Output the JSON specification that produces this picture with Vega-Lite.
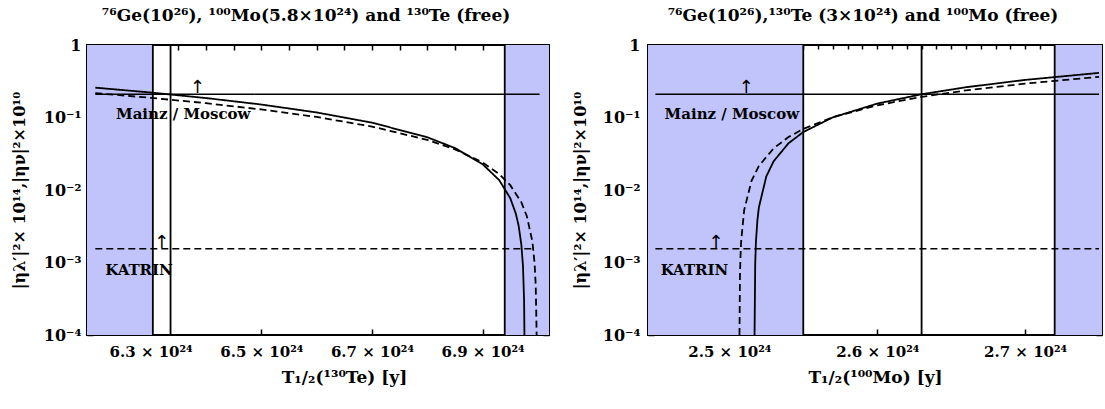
{
  "$schema": "https://vega.github.io/schema/vega-lite/v6.json",
  "background": "white",
  "padding": {"left": 10, "top": 6, "right": 0, "bottom": 5},
  "spacing": 20,
  "config": {
    "view": {"stroke": "black", "strokeWidth": 2},
    "font": "DejaVu Serif",
    "title": {"font": "DejaVu Serif"},
    "text": {"font": "DejaVu Serif"},
    "axis": {"grid": false, "domain": false, "labelFont": "DejaVu Serif", "labelFontWeight": "bold", "labelFontSize": 16, "labelColor": "black", "titleFont": "DejaVu Serif", "titleFontWeight": "bold", "titleFontSize": 16, "titleColor": "black", "tickColor": "black", "tickWidth": 1.5}
  },
  "hconcat": [
    {
      "width": 462,
      "height": 290,
      "title": {"text": "⁷⁶Ge(10²⁶), ¹⁰⁰Mo(5.8×10²⁴) and ¹³⁰Te (free)", "font": "DejaVu Serif", "fontWeight": "bold", "fontSize": 17, "color": "black", "offset": 12, "dx": -12},
      "resolve": {"axis": {"x": "independent", "y": "independent"}},
      "layer": [
        {
          "data": {"values": [{"a": 6.185, "b": 6.304}, {"a": 6.94, "b": 7.02}]},
          "mark": {"type": "rect", "color": "#c0c4fb"},
          "encoding": {
            "x": {"field": "a", "type": "quantitative", "scale": {"domain": [6.185, 7.02], "nice": false, "zero": false}, "axis": {"orient": "top", "values": [6.2, 6.25, 6.3, 6.35, 6.4, 6.45, 6.5, 6.55, 6.6, 6.65, 6.7, 6.75, 6.8, 6.85, 6.9, 6.95, 7.0], "labels": false, "tickSize": -5, "title": null}},
            "x2": {"field": "b"}
          }
        },
        {
          "data": {"values": [{"t": 6.304}, {"t": 6.336}, {"t": 6.94}]},
          "mark": {"type": "rule", "color": "black", "strokeWidth": 1.8},
          "encoding": {"x": {"field": "t", "type": "quantitative", "axis": null}}
        },
        {
          "data": {"values": [{"a": 6.2, "b": 7.003, "v": 0.209, "style": "solid"}, {"a": 6.2, "b": 6.994, "v": 0.00155, "style": "dashed"}]},
          "mark": {"type": "rule", "color": "black", "strokeWidth": 1.6},
          "encoding": {
            "x": {"field": "a", "type": "quantitative", "axis": null},
            "x2": {"field": "b"},
            "y": {"field": "v", "type": "quantitative", "scale": {"type": "log", "domain": [0.0001, 1], "nice": false}, "axis": {"orient": "right", "values": [0.0001, 0.001, 0.01, 0.1, 1], "labels": false, "tickSize": -6, "title": null}},
            "strokeDash": {"field": "style", "type": "nominal", "scale": {"domain": ["solid", "dashed"], "range": [[1, 0], [7, 4]]}, "legend": null}
          }
        },
        {
          "data": {"values": [
            {"T": 6.2, "y": 0.258, "style": "solid"},
            {"T": 6.3, "y": 0.2212, "style": "solid"},
            {"T": 6.4, "y": 0.1855, "style": "solid"},
            {"T": 6.5, "y": 0.151, "style": "solid"},
            {"T": 6.6, "y": 0.1174, "style": "solid"},
            {"T": 6.7, "y": 0.0849, "style": "solid"},
            {"T": 6.8, "y": 0.0534, "style": "solid"},
            {"T": 6.85, "y": 0.0379, "style": "solid"},
            {"T": 6.9, "y": 0.0227, "style": "solid"},
            {"T": 6.93, "y": 0.01368, "style": "solid"},
            {"T": 6.95, "y": 0.00771, "style": "solid"},
            {"T": 6.96, "y": 0.00473, "style": "solid"},
            {"T": 6.965, "y": 0.00325, "style": "solid"},
            {"T": 6.97, "y": 0.00177, "style": "solid"},
            {"T": 6.973, "y": 0.000887, "style": "solid"},
            {"T": 6.975, "y": 0.000296, "style": "solid"},
            {"T": 6.9756, "y": 0.0001, "style": "solid"},
            {"T": 6.2, "y": 0.217, "style": "dashed"},
            {"T": 6.3, "y": 0.1868, "style": "dashed"},
            {"T": 6.4, "y": 0.1576, "style": "dashed"},
            {"T": 6.5, "y": 0.1292, "style": "dashed"},
            {"T": 6.6, "y": 0.1017, "style": "dashed"},
            {"T": 6.7, "y": 0.075, "style": "dashed"},
            {"T": 6.8, "y": 0.0491, "style": "dashed"},
            {"T": 6.85, "y": 0.0364, "style": "dashed"},
            {"T": 6.9, "y": 0.024, "style": "dashed"},
            {"T": 6.93, "y": 0.01654, "style": "dashed"},
            {"T": 6.95, "y": 0.01165, "style": "dashed"},
            {"T": 6.97, "y": 0.00677, "style": "dashed"},
            {"T": 6.98, "y": 0.00434, "style": "dashed"},
            {"T": 6.99, "y": 0.00194, "style": "dashed"},
            {"T": 6.994, "y": 0.000964, "style": "dashed"},
            {"T": 6.996, "y": 0.000481, "style": "dashed"},
            {"T": 6.9975, "y": 0.00012, "style": "dashed"},
            {"T": 6.9976, "y": 0.0001, "style": "dashed"}
          ]},
          "mark": {"type": "line", "color": "black", "strokeWidth": 1.8, "clip": true},
          "encoding": {
            "x": {"field": "T", "type": "quantitative", "axis": {"orient": "bottom", "values": [6.3, 6.5, 6.7, 6.9], "labelExpr": "format(datum.value, '.1f') + ' × 10²⁴'", "tickSize": -6, "labelPadding": 15, "labelFontSize": 15, "title": "T₁/₂(¹³⁰Te) [y]", "titleFontSize": 17, "titlePadding": 10, "titleX": 257, "titleAlign": "center"}},
            "y": {"field": "y", "type": "quantitative", "axis": {"orient": "left", "values": [0.0001, 0.001, 0.01, 0.1, 1], "labelExpr": "datum.value > 0.5 ? '1' : datum.value > 0.05 ? '10⁻¹' : datum.value > 0.005 ? '10⁻²' : datum.value > 0.0005 ? '10⁻³' : '10⁻⁴'", "tickSize": -6, "labelPadding": 12, "minExtent": 56, "maxExtent": 56, "title": "|ηλ′|²× 10¹⁴,|ην|²×10¹⁰", "titlePadding": 4}},
            "strokeDash": {"field": "style", "type": "nominal", "legend": null},
            "detail": {"field": "style"}
          }
        },
        {
          "data": {"values": [{"T": 6.359, "y": 0.112, "label": "Mainz / Moscow"}, {"T": 6.279, "y": 0.00079, "label": "KATRIN"}]},
          "mark": {"type": "text", "font": "DejaVu Serif", "fontWeight": "bold", "fontSize": 15, "color": "black", "align": "center", "baseline": "middle"},
          "encoding": {
            "x": {"field": "T", "type": "quantitative", "axis": null},
            "y": {"field": "y", "type": "quantitative", "axis": null},
            "text": {"field": "label"}
          }
        },
        {
          "data": {"values": [{"T": 6.385, "y": 0.209, "label": "↑"}, {"T": 6.32, "y": 0.00155, "label": "↑"}]},
          "mark": {"type": "text", "font": "DejaVu Sans", "fontSize": 18, "color": "black", "align": "center", "baseline": "bottom", "dy": 3},
          "encoding": {
            "x": {"field": "T", "type": "quantitative", "axis": null},
            "y": {"field": "y", "type": "quantitative", "axis": null},
            "text": {"field": "label"}
          }
        }
      ]
    },
    {
      "width": 454,
      "height": 290,
      "title": {"text": "⁷⁶Ge(10²⁶),¹³⁰Te (3×10²⁴) and ¹⁰⁰Mo (free)", "font": "DejaVu Serif", "fontWeight": "bold", "fontSize": 17, "color": "black", "offset": 12, "dx": -12},
      "resolve": {"axis": {"x": "independent", "y": "independent"}},
      "layer": [
        {
          "data": {"values": [{"a": 2.445, "b": 2.55}, {"a": 2.72, "b": 2.752}]},
          "mark": {"type": "rect", "color": "#c0c4fb"},
          "encoding": {
            "x": {"field": "a", "type": "quantitative", "scale": {"domain": [2.445, 2.752], "nice": false, "zero": false}, "axis": {"orient": "top", "values": [2.45, 2.46, 2.47, 2.48, 2.49, 2.5, 2.51, 2.52, 2.53, 2.54, 2.55, 2.56, 2.57, 2.58, 2.59, 2.6, 2.61, 2.62, 2.63, 2.64, 2.65, 2.66, 2.67, 2.68, 2.69, 2.7, 2.71, 2.72, 2.73, 2.74, 2.75], "labels": false, "tickSize": -4, "title": null}},
            "x2": {"field": "b"}
          }
        },
        {
          "data": {"values": [{"t": 2.55}, {"t": 2.63}, {"t": 2.72}]},
          "mark": {"type": "rule", "color": "black", "strokeWidth": 1.8},
          "encoding": {"x": {"field": "t", "type": "quantitative", "axis": null}}
        },
        {
          "data": {"values": [{"a": 2.45, "b": 2.75, "v": 0.209, "style": "solid"}, {"a": 2.45, "b": 2.75, "v": 0.00155, "style": "dashed"}]},
          "mark": {"type": "rule", "color": "black", "strokeWidth": 1.6},
          "encoding": {
            "x": {"field": "a", "type": "quantitative", "axis": null},
            "x2": {"field": "b"},
            "y": {"field": "v", "type": "quantitative", "scale": {"type": "log", "domain": [0.0001, 1], "nice": false}, "axis": {"orient": "right", "values": [0.0001, 0.001, 0.01, 0.1, 1], "labels": false, "tickSize": -6, "title": null}},
            "strokeDash": {"field": "style", "type": "nominal", "scale": {"domain": ["solid", "dashed"], "range": [[1, 0], [7, 4]]}, "legend": null}
          }
        },
        {
          "data": {"values": [
            {"T": 2.51705, "y": 0.0001, "style": "solid"},
            {"T": 2.5175, "y": 0.000968, "style": "solid"},
            {"T": 2.518, "y": 0.001936, "style": "solid"},
            {"T": 2.519, "y": 0.003859, "style": "solid"},
            {"T": 2.52, "y": 0.005794, "style": "solid"},
            {"T": 2.525, "y": 0.01541, "style": "solid"},
            {"T": 2.53, "y": 0.025, "style": "solid"},
            {"T": 2.54, "y": 0.0441, "style": "solid"},
            {"T": 2.55, "y": 0.063, "style": "solid"},
            {"T": 2.57, "y": 0.1004, "style": "solid"},
            {"T": 2.6, "y": 0.1554, "style": "solid"},
            {"T": 2.63, "y": 0.2091, "style": "solid"},
            {"T": 2.66, "y": 0.2616, "style": "solid"},
            {"T": 2.7, "y": 0.3299, "style": "solid"},
            {"T": 2.75, "y": 0.4124, "style": "solid"},
            {"T": 2.50686, "y": 0.0001, "style": "dashed"},
            {"T": 2.5072, "y": 0.00066, "style": "dashed"},
            {"T": 2.5075, "y": 0.00114, "style": "dashed"},
            {"T": 2.508, "y": 0.00197, "style": "dashed"},
            {"T": 2.51, "y": 0.00524, "style": "dashed"},
            {"T": 2.515, "y": 0.0134, "style": "dashed"},
            {"T": 2.52, "y": 0.0215, "style": "dashed"},
            {"T": 2.53, "y": 0.0377, "style": "dashed"},
            {"T": 2.54, "y": 0.0537, "style": "dashed"},
            {"T": 2.55, "y": 0.0696, "style": "dashed"},
            {"T": 2.57, "y": 0.101, "style": "dashed"},
            {"T": 2.6, "y": 0.1473, "style": "dashed"},
            {"T": 2.63, "y": 0.1925, "style": "dashed"},
            {"T": 2.66, "y": 0.2366, "style": "dashed"},
            {"T": 2.7, "y": 0.294, "style": "dashed"},
            {"T": 2.75, "y": 0.3634, "style": "dashed"}
          ]},
          "mark": {"type": "line", "color": "black", "strokeWidth": 1.8, "clip": true},
          "encoding": {
            "x": {"field": "T", "type": "quantitative", "axis": {"orient": "bottom", "values": [2.5, 2.6, 2.7], "labelExpr": "format(datum.value, '.1f') + ' × 10²⁴'", "tickSize": -6, "labelPadding": 15, "labelFontSize": 15, "title": "T₁/₂(¹⁰⁰Mo) [y]", "titleFontSize": 17, "titlePadding": 10}},
            "y": {"field": "y", "type": "quantitative", "axis": {"orient": "left", "values": [0.0001, 0.001, 0.01, 0.1, 1], "labelExpr": "datum.value > 0.5 ? '1' : datum.value > 0.05 ? '10⁻¹' : datum.value > 0.005 ? '10⁻²' : datum.value > 0.0005 ? '10⁻³' : '10⁻⁴'", "tickSize": -6, "labelPadding": 14, "minExtent": 58, "maxExtent": 58, "title": "|ηλ′|²× 10¹⁴,|ην|²×10¹⁰", "titlePadding": 2}},
            "strokeDash": {"field": "style", "type": "nominal", "legend": null},
            "detail": {"field": "style"}
          }
        },
        {
          "data": {"values": [{"T": 2.5017, "y": 0.112, "label": "Mainz / Moscow"}, {"T": 2.4764, "y": 0.00079, "label": "KATRIN"}]},
          "mark": {"type": "text", "font": "DejaVu Serif", "fontWeight": "bold", "fontSize": 15, "color": "black", "align": "center", "baseline": "middle"},
          "encoding": {
            "x": {"field": "T", "type": "quantitative", "axis": null},
            "y": {"field": "y", "type": "quantitative", "axis": null},
            "text": {"field": "label"}
          }
        },
        {
          "data": {"values": [{"T": 2.5115, "y": 0.209, "label": "↑"}, {"T": 2.491, "y": 0.00155, "label": "↑"}]},
          "mark": {"type": "text", "font": "DejaVu Sans", "fontSize": 18, "color": "black", "align": "center", "baseline": "bottom", "dy": 3},
          "encoding": {
            "x": {"field": "T", "type": "quantitative", "axis": null},
            "y": {"field": "y", "type": "quantitative", "axis": null},
            "text": {"field": "label"}
          }
        }
      ]
    }
  ]
}
